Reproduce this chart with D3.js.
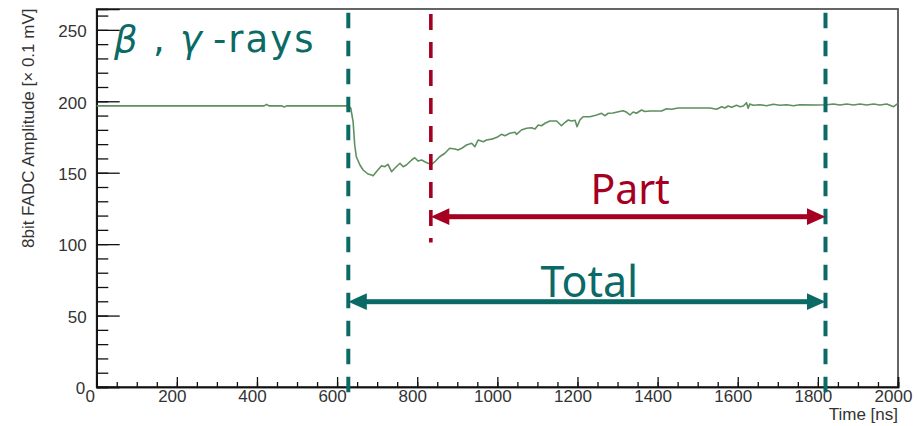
<!DOCTYPE html>
<html>
<head>
<meta charset="utf-8">
<script src="https://cdn.jsdelivr.net/npm/d3@7"></script>
<style>
  html, body { margin: 0; padding: 0; background: #fff; }
  svg { display: block; }
</style>
</head>
<body>
<svg id="chart" width="918" height="426"></svg>
<script>
// FADC waveform samples: time [ns] and amplitude [x 0.1 mV]
const timeNs = [
  0, 400, 418, 424, 430, 462, 468, 474, 628, 634, 640, 644, 648, 657, 665, 677, 686, 690,
  698, 711, 719, 727, 736, 744, 757, 765, 773, 786, 794, 802, 811, 819, 827, 836, 844, 856,
  869, 881, 894, 902, 911, 923, 936, 944, 952, 965, 973, 986, 1002, 1010, 1019, 1031, 1044,
  1048, 1060, 1073, 1085, 1094, 1102, 1110, 1119, 1131, 1148, 1160, 1169, 1177, 1185, 1194,
  1199, 1206, 1214, 1231, 1248, 1260, 1268, 1277, 1289, 1302, 1314, 1323, 1331, 1339, 1347,
  1360, 1368, 1381, 1410, 1422, 1435, 1451, 1531, 1547, 1560, 1568, 1576, 1585, 1597, 1606,
  1614, 1622, 1626, 1630, 1639, 1655, 1672, 1689, 1705, 1722, 1739, 1755, 1797, 1822, 1839,
  1855, 1872, 1889, 1905, 1922, 1939, 1955, 1972, 1989, 2000
];
const amplitude = [
  196.8, 196.8, 196.8, 197.8, 196.8, 196.8, 196.0, 196.8, 196.8, 195.3, 185.7, 169.4, 161.2, 155.4, 151.9, 149.1, 148.4, 147.9,
  150.7, 154.9, 154.2, 155.9, 150.7, 153.1, 156.6, 154.2, 155.4, 158.9, 160.5, 158.2, 158.9, 157.7, 156.6, 155.9, 157.7, 161.2,
  163.6, 167.1, 166.6, 165.9, 167.1, 169.4, 170.6, 168.2, 172.9, 171.7, 172.9, 173.5, 175.2, 176.9, 175.9, 177.6, 178.3,
  176.9, 179.9, 181.1, 181.5, 180.6, 183.4, 182.9, 184.6, 186.2, 186.2, 182.9, 185.3, 186.9, 186.2, 186.7,
  182.2, 186.9, 189.2, 189.2, 190.4, 191.6, 189.9, 191.6, 191.8, 192.7, 193.4, 192.3, 190.4, 192.5, 191.6,
  193.9, 192.8, 193.2, 193.2, 194.8, 194.4, 195.3, 195.3, 194.4, 196.2, 195.3, 196.7, 195.8, 197.2, 196.2,
  196.7, 199.0, 195.1, 198.1, 197.2, 197.6, 196.9, 197.9, 197.2, 197.6, 196.9, 197.6, 197.4, 197.6, 198.1,
  197.4, 198.1, 197.4, 198.1, 197.4, 198.1, 197.4, 198.1, 196.2, 198.6
];

// Integration gates [ns]: total window start, partial window start, common end
const totalStartNs = 628;
const partStartNs = 834;
const gateEndNs = 1819;

// Axis ticks
const xMajorTicks = [0, 200, 400, 600, 800, 1000, 1200, 1400, 1600, 1800, 2000];
const xMinorTicks = d3.range(0, 2001, 50);
const yMajorTicks = [0, 50, 100, 150, 200, 250];
const yMinorTicks = d3.range(0, 261, 10);

const xTitle = "Time [ns]";
const yTitle = "8bit FADC Amplitude [\u00d7 0.1 mV]";

const teal = "#0b6a66";
const crimson = "#a50021";
const labelFont = "'Liberation Sans', Arial, sans-serif";
const noteFont = "'Noto Sans', 'Noto Sans CJK JP', sans-serif";
const tagFont = "'DejaVu Sans', 'Noto Sans', sans-serif";

const svg = d3.select("#chart");

const plot = { left: 96.7, right: 898, top: 9, bottom: 387 };
const x = d3.scaleLinear().domain([0, 2000]).range([plot.left, plot.right]);
const y = d3.scaleLinear().domain([0, 264.6]).range([plot.bottom, plot.top]);

// Frame
svg.append("rect")
  .attr("x", plot.left).attr("y", plot.top)
  .attr("width", plot.right - plot.left).attr("height", plot.bottom - plot.top)
  .attr("fill", "none").attr("stroke", "#555").attr("stroke-width", 1.8);

// Y axis: minor ticks then major ticks with labels, ticks pointing into the frame
const yMinor = svg.append("g").attr("transform", `translate(${plot.left},0)`)
  .call(d3.axisLeft(y).tickValues(yMinorTicks).tickSize(-11.6).tickFormat(""));
const yMajor = svg.append("g").attr("transform", `translate(${plot.left},0)`)
  .call(d3.axisLeft(y).tickValues(yMajorTicks).tickSize(-23).tickPadding(10).tickFormat(d3.format("d")));
[yMinor, yMajor].forEach(g => {
  g.select(".domain").attr("stroke", "#111").attr("stroke-width", 1.6);
  g.selectAll(".tick line").attr("stroke", "#111").attr("stroke-width", 1.3);
});
yMajor.selectAll(".tick text")
  .attr("font-family", labelFont).attr("font-size", 17).attr("fill", "#333")
  .attr("dy", "0.4em")
  .attr("dx", d => d === 0 ? -1.5 : 0);

// X axis
const xMinor = svg.append("g").attr("transform", `translate(0,${plot.bottom})`)
  .call(d3.axisBottom(x).tickValues(xMinorTicks).tickSize(-5).tickFormat(""));
const xMajor = svg.append("g").attr("transform", `translate(0,${plot.bottom})`)
  .call(d3.axisBottom(x).tickValues(xMajorTicks).tickSize(-10).tickPadding(3).tickFormat(d3.format("d")));
[xMinor, xMajor].forEach(g => {
  g.select(".domain").attr("stroke", "#111").attr("stroke-width", 1.6);
  g.selectAll(".tick line").attr("stroke", "#111").attr("stroke-width", 1.3);
});
xMajor.selectAll(".tick text")
  .attr("font-family", labelFont).attr("font-size", 17).attr("fill", "#333")
  .attr("dy", "0.68em")
  .attr("dx", d => d === 0 ? -7 : -5);

// Axis titles
svg.append("text")
  .attr("transform", `translate(33.5,8.5) rotate(-90)`)
  .attr("text-anchor", "end")
  .attr("font-family", labelFont).attr("font-size", 17).attr("fill", "#333")
  .text(yTitle);
svg.append("text")
  .attr("x", plot.right).attr("y", 420)
  .attr("text-anchor", "end")
  .attr("font-family", labelFont).attr("font-size", 17).attr("fill", "#333")
  .text(xTitle);

// Waveform
const samples = timeNs.map((t, i) => ({ t, v: amplitude[i] }));
const line = d3.line().x(d => x(d.t)).y(d => y(d.v));
svg.append("path")
  .datum(samples)
  .attr("d", line)
  .attr("fill", "none")
  .attr("stroke", "#5e8f5e")
  .attr("stroke-width", 1.6)
  .attr("stroke-linejoin", "round");

// Gate markers (dashed)
const gates = [
  { t: totalStartNs, color: teal, y0: 12.7, y1: 392.5, w: 4, dash: "15.5 12.5" },
  { t: partStartNs, color: crimson, y0: 14, y1: 242.5, w: 3.6, dash: "16 12" },
  { t: gateEndNs, color: teal, y0: 12.7, y1: 392.5, w: 4, dash: "15.5 12.5" }
];
svg.selectAll("line.gate").data(gates).join("line")
  .attr("class", "gate")
  .attr("x1", d => x(d.t)).attr("x2", d => x(d.t))
  .attr("y1", d => d.y0).attr("y2", d => d.y1)
  .attr("stroke", d => d.color).attr("stroke-width", d => d.w)
  .attr("stroke-dasharray", d => d.dash);

// Double-headed range arrows
function rangeArrow(t0, t1, yPix, color) {
  const x0 = x(t0), x1 = x(t1);
  const len = 18.5, half = 8.4, thick = 5;
  const g = svg.append("g").attr("fill", color);
  g.append("rect").attr("x", x0 + len - 1).attr("y", yPix - thick / 2)
    .attr("width", x1 - x0 - 2 * len + 2).attr("height", thick);
  g.append("path").attr("d", `M${x0},${yPix} L${x0 + len},${yPix - half} L${x0 + len},${yPix + half} Z`);
  g.append("path").attr("d", `M${x1},${yPix} L${x1 - len},${yPix - half} L${x1 - len},${yPix + half} Z`);
}
rangeArrow(partStartNs, gateEndNs, 216.7, crimson);
rangeArrow(totalStartNs, gateEndNs, 301.7, teal);

// Window labels
svg.append("text")
  .attr("x", (x(partStartNs) + x(gateEndNs)) / 2 + 2).attr("y", 204)
  .attr("text-anchor", "middle")
  .attr("font-family", noteFont).attr("font-size", 41).attr("fill", crimson)
  .text("Part");
svg.append("text")
  .attr("x", (x(totalStartNs) + x(gateEndNs)) / 2 + 2.5).attr("y", 297)
  .attr("text-anchor", "middle")
  .attr("font-family", noteFont).attr("font-size", 43).attr("fill", teal)
  .text("Total");

// Particle type label
const tag = svg.append("g").attr("fill", teal).attr("font-family", tagFont).attr("font-size", 37);
tag.append("text").attr("x", 114).attr("y", 51.7).attr("font-style", "italic").text("\u03b2");
tag.append("text").attr("x", 153).attr("y", 51.7).text(",");
tag.append("text").attr("x", 180).attr("y", 51.7).attr("font-style", "italic").text("\u03b3");
tag.append("text").attr("x", 213).attr("y", 51.7).attr("letter-spacing", 2).text("-rays");
</script>
</body>
</html>
